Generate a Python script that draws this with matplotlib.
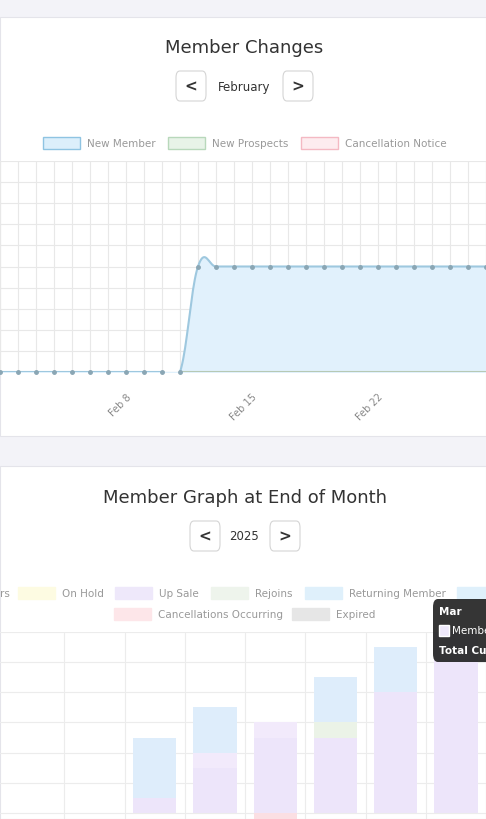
import matplotlib.pyplot as plt
import numpy as np
from matplotlib.patches import Rectangle, FancyBboxPatch

W, H = 486, 820

# top chart data (February, daily)
days = np.arange(1, 29)
new_member = np.array([0] * 11 + [5] * 17, dtype=float)
new_prospects = np.zeros(28)
cancel_notice = np.zeros(28)
day_ticks = [8, 15, 22]
day_labels = ['Feb 8', 'Feb 15', 'Feb 22']

# bottom chart data (stacked by month)
months = ['Aug', 'Sep', 'Oct', 'Nov', 'Dec', 'Jan', 'Feb', 'Mar']
up_sale = [0, 0, 0.5, 1.5, 2.5, 2.5, 4.0, 6.0]
up_sale_light = [0, 0, 0, 0.5, 0.5, 0, 0, 0]
rejoins = [0, 0, 0, 0, 0, 0.5, 0, 0]
returning = [0, 0, 2.0, 1.5, 0, 1.5, 1.5, 0]
cancellations = [0, 0, 0, 0, -0.2, 0, 0, 0]


def fx(x):
    return x / W


def fy(y):
    return 1 - y / H


def spline(x, y, n=20, t=0.4):
    xs, ys = [], []
    for i in range(len(x) - 1):
        p0 = np.array([x[max(i - 1, 0)], y[max(i - 1, 0)]])
        p1 = np.array([x[i], y[i]])
        p2 = np.array([x[i + 1], y[i + 1]])
        p3 = np.array([x[min(i + 2, len(x) - 1)], y[min(i + 2, len(x) - 1)]])
        c1 = p1 + (p2 - p0) * t / 2
        c2 = p2 - (p3 - p1) * t / 2
        s = np.linspace(0, 1, n)[:, None]
        pts = (1 - s) ** 3 * p1 + 3 * (1 - s) ** 2 * s * c1 + 3 * (1 - s) * s ** 2 * c2 + s ** 3 * p2
        xs.extend(pts[:, 0])
        ys.extend(pts[:, 1])
    return np.array(xs), np.array(ys)


fig = plt.figure(figsize=(W / 100, H / 100), dpi=100, facecolor='#f3f3f8')
fig.patches.append(Rectangle((0, fy(437)), 1, fy(18) - fy(437), transform=fig.transFigure,
                             facecolor='white', edgecolor='#e4e4ea', lw=0.8, zorder=0))
fig.patches.append(Rectangle((0, 0), 1, fy(467), transform=fig.transFigure,
                             facecolor='white', edgecolor='#e4e4ea', lw=0.8, zorder=0))


def button(x0, y0, label):
    fig.patches.append(FancyBboxPatch((fx(x0), fy(y0 + 30)), fx(30), fy(0) - fy(30),
                                      boxstyle='round,pad=0,rounding_size=0.008',
                                      transform=fig.transFigure, facecolor='white',
                                      edgecolor='#d5d5d5', lw=0.8))
    fig.text(fx(x0 + 15), fy(y0 + 15), label, ha='center', va='center', fontsize=11,
             color='#333', fontweight='bold')


fig.text(fx(244), fy(48), 'Member Changes', ha='center', va='center', fontsize=13, color='#333')
button(176, 72, '<')
button(283, 72, '>')
fig.text(fx(244), fy(87), 'February', ha='center', va='center', fontsize=8.5, color='#333')

fig.text(fx(245), fy(498), 'Member Graph at End of Month', ha='center', va='center', fontsize=13, color='#333')
button(190, 522, '<')
button(270, 522, '>')
fig.text(fx(244), fy(537), '2025', ha='center', va='center', fontsize=8.5, color='#333')


def legend_item(x, y, fc, ec, label):
    fig.patches.append(Rectangle((fx(x), fy(y + 6)), fx(37), fy(0) - fy(12), transform=fig.transFigure,
                                 facecolor=fc, edgecolor=ec, lw=1))
    fig.text(fx(x + 44), fy(y), label, ha='left', va='center', fontsize=7.5, color='#999')


legend_item(43, 144, '#dceffb', '#8fc4e2', 'New Member')
legend_item(168, 144, '#e8f3e8', '#b8d8bb', 'New Prospects')
legend_item(301, 144, '#fdecef', '#f4b9c3', 'Cancellation Notice')

fig.text(fx(0), fy(594), 'rs', ha='left', va='center', fontsize=7.5, color='#999')
legend_item(18, 594, '#fdfbe2', '#fdfbe2', 'On Hold')
legend_item(115, 594, '#eee8fa', '#eee8fa', 'Up Sale')
legend_item(211, 594, '#eef4ec', '#eef4ec', 'Rejoins')
legend_item(305, 594, '#dff0fb', '#dff0fb', 'Returning Member')
legend_item(457, 594, '#dff0fb', '#dff0fb', '')
legend_item(114, 615, '#fde6e9', '#fde6e9', 'Cancellations Occurring')
legend_item(292, 615, '#e6e6e6', '#e6e6e6', 'Expired')

# top chart
ax1 = fig.add_axes([0, fy(373), 1, fy(162) - fy(373)])
ax1.set_zorder(2)
ax1.patch.set_alpha(0)
ax1.set_xlim(5.18, 22.1)
ax1.set_ylim(0, 10)
ax1.set_xticks(days)
ax1.set_xticklabels([day_labels[day_ticks.index(d)] if d in day_ticks else '' for d in days],
                    rotation=45, ha='right', rotation_mode='anchor', fontsize=7, color='#888')
ax1.set_yticks(np.arange(0, 11))
ax1.tick_params(length=0, pad=14)
ax1.tick_params(axis='y', labelleft=False)
ax1.grid(True, color='#e8e8e8', lw=0.8)
for s in ax1.spines.values():
    s.set_visible(False)
sx, sy = spline(days, new_member)
ax1.fill_between(sx, sy, 0, color='#e1f1fc', zorder=2)
ax1.plot(sx, sy, color='#9ec8df', lw=1.5, zorder=3)
ax1.plot(days[10:], new_prospects[10:], color='#b7c9b4', lw=1.5, zorder=4)
ax1.plot(days, cancel_notice, color='#9ec8df', lw=0.5, alpha=0.3, zorder=3)
ax1.plot(days, new_member, 'o', ms=2.5, color='#8aa6b4', zorder=5, clip_on=False)

# bottom chart
ax2 = fig.add_axes([0, 0, 1, fy(633)])
ax2.set_zorder(2)
ax2.patch.set_alpha(0)
x = np.arange(len(months))
ax2.set_xlim(-0.57, 7.1)
ax2.set_ylim(-0.2, 6)
ax2.set_xticks(x + 0.5, minor=False)
ax2.set_yticks(np.arange(0, 7))
ax2.tick_params(length=0, labelbottom=False, labelleft=False)
ax2.grid(True, color='#ececec', lw=0.8)
for s in ax2.spines.values():
    s.set_visible(False)
bw = 0.72
b = np.zeros(len(months))
for vals, c in [(up_sale, '#ede5fa'), (up_sale_light, '#f2eafb'), (rejoins, '#ebf3e7'),
                (returning, '#deedfb')]:
    ax2.bar(x, vals, bw, bottom=b, color=c, zorder=2)
    b += np.array(vals)
ax2.bar(x, cancellations, bw, color='#fbdfe3', zorder=2)

# tooltip (cut off at the right edge, as in the screenshot)
fig.patches.append(FancyBboxPatch((fx(433), fy(663)), fx(70), fy(0) - fy(63),
                                  boxstyle='round,pad=0,rounding_size=0.01',
                                  transform=fig.transFigure, facecolor='#1f1f1f',
                                  edgecolor='none', alpha=0.9, zorder=10))
fig.text(fx(439), fy(612), 'Mar', fontsize=7.5, color='white', fontweight='bold', va='center', zorder=11)
fig.patches.append(Rectangle((fx(439), fy(637)), fx(10), fy(0) - fy(11), transform=fig.transFigure,
                             facecolor='#eee8fa', edgecolor='white', zorder=11))
fig.text(fx(452), fy(631), 'Member', fontsize=7.5, color='white', va='center', zorder=11)
fig.text(fx(439), fy(651), 'Total Current', fontsize=7.5, color='white', fontweight='bold',
         va='center', zorder=11)

fig.savefig('out.png', dpi=100, facecolor=fig.get_facecolor())
